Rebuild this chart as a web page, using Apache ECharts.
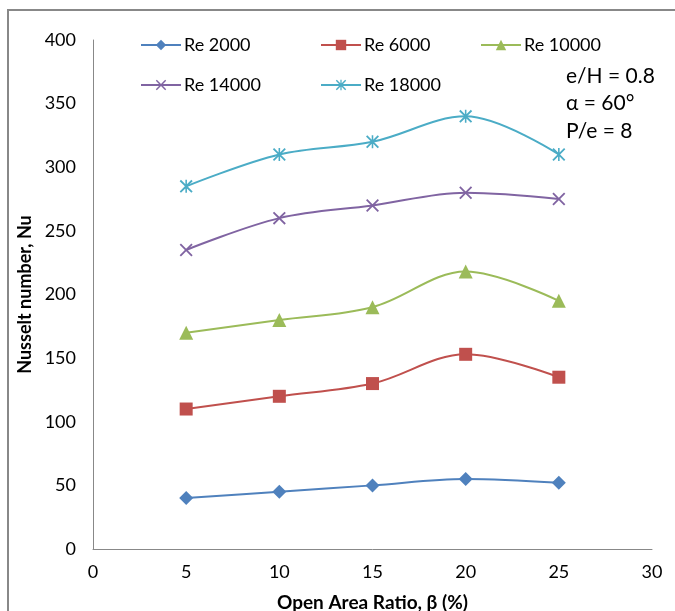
<!DOCTYPE html>
<html>
<head>
<meta charset="utf-8">
<script src="https://cdn.jsdelivr.net/npm/echarts@6/dist/echarts.min.js"></script>
<style>
  html, body { margin: 0; padding: 0; background: #fff; }
  #chart { width: 675px; height: 611px; }
</style>
</head>
<body>
<div id="chart"></div>
<script>
  // open area ratio (%)
  var beta = [5, 10, 15, 20, 25];
  var re2000 = [40, 45, 50, 55, 52];
  var re6000 = [110, 120, 130, 153, 135];
  var re10000 = [170, 180, 190, 218, 195];
  var re14000 = [235, 260, 270, 280, 275];
  var re18000 = [285, 310, 320, 340, 310];
  var seriesNames = ['Re 2000', 'Re 6000', 'Re 10000', 'Re 14000', 'Re 18000'];
  var notes = ['e/H = 0.8', 'α = 60°', 'P/e = 8'];

  var FONT = 'Lato, "Open Sans", sans-serif';
  var crossPath = 'path://M0,1L1,0L5,4L9,0L10,1L6,5L10,9L9,10L5,6L1,10L0,9L4,5Z';
  var starPath = 'path://M0,1L1,0L5,4L9,0L10,1L6,5L10,9L9,10L5,6L1,10L0,9L4,5Z' +
    'M4.4,0L5.6,0L5.6,10L4.4,10Z';

  var colors = ['#4F81BD', '#C0504D', '#9BBB59', '#8064A2', '#4BACC6'];
  var symbols = ['diamond', 'rect', 'triangle', crossPath, starPath];
  var sizes = [14, 13, 14, 13, 13];
  var values = [re2000, re6000, re10000, re14000, re18000];

  function pairs(ys) {
    return beta.map(function (x, i) { return [x, ys[i]]; });
  }

  var series = values.map(function (ys, i) {
    return {
      name: seriesNames[i],
      type: 'line',
      smooth: 0.35,
      data: pairs(ys),
      symbol: symbols[i],
      symbolSize: sizes[i],
      lineStyle: { color: colors[i], width: 2 },
      itemStyle: { color: colors[i] },
      z: 2
    };
  });

  // legend slots (left, top) to mimic the two rows
  var legendPos = [[135, 31], [315, 31], [475, 31], [135, 71], [315, 71]];
  var legends = seriesNames.map(function (n, i) {
    return {
      data: [n],
      left: legendPos[i][0],
      top: legendPos[i][1],
      itemWidth: 40,
      itemHeight: 13,
      itemGap: 6,
      textStyle: { fontFamily: FONT, fontSize: 18, color: '#000', padding: [0, 0, 0, -2] }
    };
  });

  var chart = echarts.init(document.getElementById('chart'));
  chart.setOption({
    animation: false,
    color: colors,
    legend: legends,
    grid: { left: 93, right: 23, top: 40, bottom: 62, containLabel: false, outerBoundsMode: 'none' },
    xAxis: {
      type: 'value',
      min: 0, max: 30, interval: 5,
      name: 'Open Area Ratio, β (%)',
      nameLocation: 'middle',
      nameGap: 44,
      nameTextStyle: { fontFamily: FONT, fontSize: 19, fontWeight: 'bold', color: '#000' },
      axisLine: { lineStyle: { color: '#888', width: 1 } },
      axisTick: { show: false },
      splitLine: { show: false },
      axisLabel: { fontFamily: FONT, fontSize: 18, color: '#000', margin: 14 }
    },
    yAxis: {
      type: 'value',
      min: 0, max: 400, interval: 50,
      name: 'Nusselt number, Nu',
      nameLocation: 'middle',
      nameGap: 58,
      nameRotate: 90,
      nameTextStyle: { fontFamily: FONT, fontSize: 18, fontWeight: 'bold', color: '#000' },
      axisLine: { show: true, lineStyle: { color: '#888', width: 1 } },
      axisTick: { show: false },
      splitLine: { show: false },
      axisLabel: { fontFamily: FONT, fontSize: 18, color: '#000', margin: 17 }
    },
    graphic: [
      {
        type: 'polyline',
        shape: { points: [[8, 611], [8, 10], [675, 10]] },
        style: { stroke: '#888', lineWidth: 2, fill: null },
        silent: true
      },
      {
        type: 'text',
        left: 566,
        top: 62,
        style: {
          text: notes.join('\n'),
          fontFamily: FONT,
          fontSize: 21,
          lineHeight: 27.5,
          fill: '#000'
        }
      }
    ],
    series: series
  });
</script>
</body>
</html>
